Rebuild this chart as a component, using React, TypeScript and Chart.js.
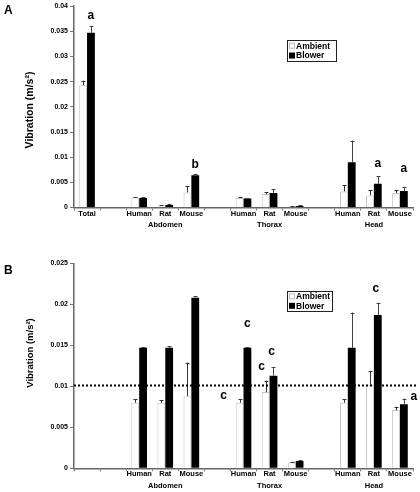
import React, { useEffect, useRef } from 'react';
import { Chart, registerables } from 'chart.js';

Chart.register(...registerables);

// ---------- data ----------
const speciesA = ['Total', '', 'Human', 'Rat', 'Mouse', '', 'Human', 'Rat', 'Mouse', '', 'Human', 'Rat', 'Mouse'];
const speciesB = ['', '', 'Human', 'Rat', 'Mouse', '', 'Human', 'Rat', 'Mouse', '', 'Human', 'Rat', 'Mouse'];
const regions = ['', '', '', 'Abdomen', '', '', '', 'Thorax', '', '', '', 'Head', ''];

const ambientA = [0.0243, null, 0.0020, 0.0003, 0.0030, null, 0.0019, 0.0027, 0.0002, null, 0.0032, 0.0024, 0.0029];
const ambientErrA = [0.0009, null, 0.0001, 0.0001, 0.0012, null, 0.0001, 0.0003, 0.0001, null, 0.0012, 0.0011, 0.0005];
const blowerA = [0.0347, null, 0.0019, 0.0005, 0.0064, null, 0.0018, 0.0029, 0.0003, null, 0.0090, 0.0047, 0.0033];
const blowerErrA = [0.0014, null, 0.0001, 0.0001, 0.0003, null, 0.0001, 0.0008, 0.0001, null, 0.0043, 0.0015, 0.0007];

const ambientB = [null, null, 0.0080, 0.0080, 0.0088, null, 0.0080, 0.0093, 0.0007, null, 0.0080, 0.0102, 0.0071];
const ambientErrB = [null, null, 0.0004, 0.0003, 0.0041, null, 0.0004, 0.0014, 0.0001, null, 0.0004, 0.0017, 0.0004];
const blowerB = [null, null, 0.0147, 0.0147, 0.0208, null, 0.0147, 0.0113, 0.0009, null, 0.0147, 0.0187, 0.0078];
const blowerErrB = [null, null, 0.0001, 0.0002, 0.0002, null, 0.0001, 0.0010, 0.0001, null, 0.0043, 0.0015, 0.0007];

const yTicksA = [0, 0.005, 0.01, 0.015, 0.02, 0.025, 0.03, 0.035, 0.04];
const yTicksB = [0, 0.005, 0.01, 0.015, 0.02, 0.025];
const thresholdB = 0.0101;

// significance letters: text, category index, series (0 ambient, 1 blower), value level
const letterTextA = ['a', 'b', 'a', 'a'];
const letterIndexA = [0, 4, 11, 12];
const letterSeriesA = [1, 1, 1, 1];
const letterValueA = [0.0382, 0.0086, 0.0088, 0.0078];

const letterTextB = ['c', 'c', 'c', 'c', 'c', 'a'];
const letterIndexB = [6, 6, 7, 7, 11, 12];
const letterSeriesB = [0, 1, 0, 1, 1, 1];
const letterValueB = [0.0089, 0.0176, 0.01235, 0.0142, 0.0219, 0.0087];
const letterShiftB = [-16, 0, -4, -2, -2, 10];

const seriesNames = ['Ambient', 'Blower'];
const yTitle = 'Vibration (m/s²)';

// ---------- rendering ----------
const FONT = '"Liberation Sans", Arial, Helvetica, sans-serif';

type PanelSpec = {
  panel: string;
  species: string[];
  ambient: (number | null)[];
  ambientErr: (number | null)[];
  blower: (number | null)[];
  blowerErr: (number | null)[];
  yTicks: number[];
  letters: { text: string[]; index: number[]; series: number[]; value: number[]; shift?: number[] };
  threshold?: number;
  height: number;
  padTop: number;
  xAxisHeight: number;
  panelLabelY: number;
  titleY: number;
  titleSize: number;
  legend: { x: number; y: number; w: number; h: number };
};

function buildConfig(p: PanelSpec): any {
  const labels = p.species.map((s, i) => (regions[i] ? [s, regions[i]] : s));
  const yMax = p.yTicks[p.yTicks.length - 1];

  const overlay = {
    id: 'overlay' + p.panel,
    afterDatasetsDraw(chart: any) {
      const ctx = chart.ctx;
      const ys = chart.scales.y;
      const area = chart.chartArea;
      // error bars
      [p.ambientErr, p.blowerErr].forEach((errs, di) => {
        const vals = di === 0 ? p.ambient : p.blower;
        const meta = chart.getDatasetMeta(di);
        errs.forEach((e, i) => {
          const v = vals[i];
          if (e == null || v == null) return;
          const el = meta.data[i];
          const x = Math.round(el.x) + 0.5;
          const y0 = ys.getPixelForValue(v);
          const y1 = ys.getPixelForValue(v + e);
          ctx.save();
          ctx.strokeStyle = di === 0 ? '#333' : '#444';
          ctx.lineWidth = 1;
          ctx.beginPath();
          ctx.moveTo(x, y0);
          ctx.lineTo(x, y1);
          ctx.moveTo(x - 2, Math.round(y1) + 0.5);
          ctx.lineTo(x + 2, Math.round(y1) + 0.5);
          ctx.stroke();
          ctx.restore();
        });
      });
      // threshold line
      if (p.threshold != null) {
        const yy = ys.getPixelForValue(p.threshold);
        ctx.save();
        ctx.strokeStyle = '#000';
        ctx.lineWidth = 2;
        ctx.setLineDash([2, 2]);
        ctx.beginPath();
        ctx.moveTo(area.left, yy);
        ctx.lineTo(area.right + 3, yy);
        ctx.stroke();
        ctx.restore();
      }
      // letters
      ctx.save();
      ctx.fillStyle = '#000';
      ctx.font = 'bold 12px ' + FONT;
      ctx.textAlign = 'center';
      ctx.textBaseline = 'middle';
      p.letters.text.forEach((t, k) => {
        const meta = chart.getDatasetMeta(p.letters.series[k]);
        const el = meta.data[p.letters.index[k]];
        const dx = p.letters.shift ? p.letters.shift[k] : 0;
        ctx.fillText(t, el.x + dx, ys.getPixelForValue(p.letters.value[k]));
      });
      ctx.restore();
      // legend
      const L = p.legend;
      ctx.save();
      ctx.fillStyle = '#fff';
      ctx.fillRect(L.x, L.y, L.w, L.h);
      ctx.strokeStyle = '#222';
      ctx.lineWidth = 1;
      ctx.strokeRect(L.x + 0.5, L.y + 0.5, L.w, L.h);
      ctx.font = 'bold 8.5px ' + FONT;
      ctx.textAlign = 'left';
      ctx.textBaseline = 'middle';
      seriesNames.forEach((name, k) => {
        const cy = L.y + L.h * (k === 0 ? 0.27 : 0.74);
        if (k === 0) {
          ctx.fillStyle = '#fff';
          ctx.fillRect(L.x + 2, cy - 3, 5, 5);
          ctx.strokeStyle = '#bbb';
          ctx.strokeRect(L.x + 2.5, cy - 2.5, 5, 5);
        } else {
          ctx.fillStyle = '#000';
          ctx.fillRect(L.x + 2, cy - 3, 6, 6);
        }
        ctx.fillStyle = '#000';
        ctx.fillText(name, L.x + 9, cy + 0.5);
      });
      ctx.restore();
      // panel label + y title
      ctx.save();
      ctx.fillStyle = '#000';
      ctx.font = 'bold 12px ' + FONT;
      ctx.textAlign = 'left';
      ctx.textBaseline = 'middle';
      ctx.fillText(p.panel, 4, p.panelLabelY);
      ctx.translate(30, p.titleY);
      ctx.rotate(-Math.PI / 2);
      ctx.textAlign = 'center';
      ctx.font = 'bold ' + p.titleSize + 'px ' + FONT;
      ctx.fillText(yTitle, 0, 0);
      ctx.restore();
    },
  };

  return {
    type: 'bar',
    data: {
      labels,
      datasets: [
        {
          label: seriesNames[0],
          data: p.ambient,
          backgroundColor: '#ffffff',
          borderColor: '#c4c4c4',
          borderWidth: 1,
          categoryPercentage: 0.6,
          barPercentage: 1.0,
        },
        {
          label: seriesNames[1],
          data: p.blower,
          backgroundColor: '#000000',
          borderColor: '#000000',
          borderWidth: 0,
          categoryPercentage: 0.6,
          barPercentage: 1.0,
        },
      ],
    },
    options: {
      animation: false,
      responsive: false,
      devicePixelRatio: 1,
      layout: { padding: { top: p.padTop, right: 7, left: 0, bottom: 0 } },
      plugins: { legend: { display: false }, tooltip: { enabled: false } },
      scales: {
        x: {
          offset: true,
          grid: { display: true, drawOnChartArea: false, offset: true, tickLength: 3, color: '#777' },
          border: { color: '#666', width: 1.5 },
          ticks: {
            autoSkip: false,
            maxRotation: 0,
            minRotation: 0,
            padding: -2.5,
            color: '#000',
            font: { family: FONT, size: 7.5, weight: 'bold', lineHeight: 1.5 },
          },
          afterFit: (s: any) => {
            s.height = p.xAxisHeight;
          },
        },
        y: {
          min: 0,
          max: yMax,
          grid: { display: true, drawOnChartArea: false, tickLength: 4, color: '#777' },
          border: { color: '#666', width: 1.5 },
          afterBuildTicks: (s: any) => {
            s.ticks = p.yTicks.map((v) => ({ value: v }));
          },
          ticks: {
            padding: 2,
            color: '#000',
            font: { family: FONT, size: 7, weight: 'bold' },
            callback: (v: any) => String(+Number(v).toFixed(4)),
          },
          afterFit: (s: any) => {
            s.width = 74;
          },
        },
      },
    },
    plugins: [overlay],
  };
}

const specA: PanelSpec = {
  panel: 'A',
  species: speciesA,
  ambient: ambientA,
  ambientErr: ambientErrA,
  blower: blowerA,
  blowerErr: blowerErrA,
  yTicks: yTicksA,
  letters: { text: letterTextA, index: letterIndexA, series: letterSeriesA, value: letterValueA },
  height: 240,
  padTop: 5.7,
  xAxisHeight: 240 - 207.5,
  panelLabelY: 11,
  titleY: 110,
  titleSize: 10.5,
  legend: { x: 287, y: 40, w: 49, h: 21 },
};

const specB: PanelSpec = {
  panel: 'B',
  species: speciesB,
  ambient: ambientB,
  ambientErr: ambientErrB,
  blower: blowerB,
  blowerErr: blowerErrB,
  yTicks: yTicksB,
  letters: { text: letterTextB, index: letterIndexB, series: letterSeriesB, value: letterValueB, shift: letterShiftB },
  threshold: thresholdB,
  height: 252,
  padTop: 23.3,
  xAxisHeight: 492 - 468.3,
  panelLabelY: 31,
  titleY: 113,
  titleSize: 9.5,
  legend: { x: 287, y: 51, w: 45, h: 20 },
};

function Panel({ spec, top }: { spec: PanelSpec; top: number }) {
  const ref = useRef<HTMLCanvasElement>(null);
  useEffect(() => {
    const chart = new Chart(ref.current as HTMLCanvasElement, buildConfig(spec));
    return () => chart.destroy();
  }, [spec]);
  return (
    <canvas
      ref={ref}
      width={420}
      height={spec.height}
      style={{ position: 'absolute', left: 0, top, width: 420, height: spec.height, display: 'block' }}
    />
  );
}

export default function App() {
  return (
    <div style={{ position: 'absolute', left: 0, top: 0, width: 420, height: 492, background: '#fff', overflow: 'hidden' }}>
      <Panel spec={specA} top={0} />
      <Panel spec={specB} top={240} />
    </div>
  );
}
